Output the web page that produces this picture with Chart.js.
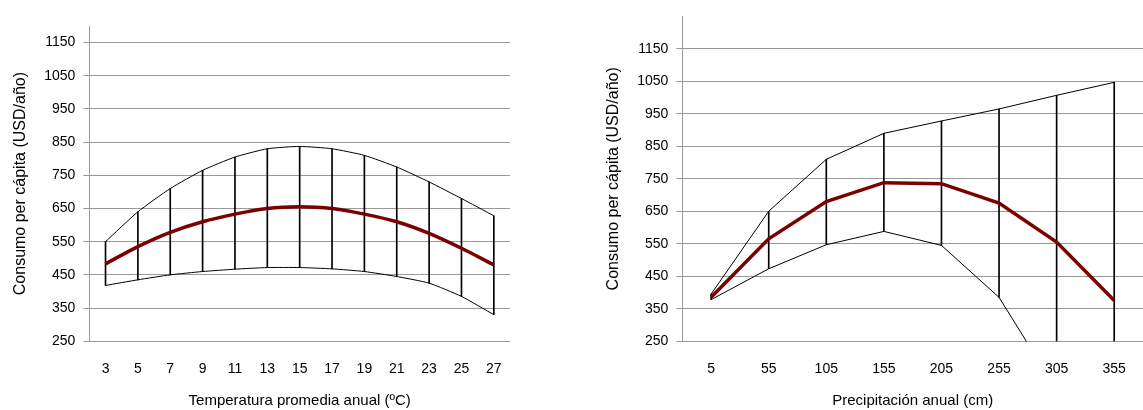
<!DOCTYPE html>
<html>
<head>
<meta charset="utf-8">
<script src="https://cdn.jsdelivr.net/npm/chart.js@4"></script>
<style>
  body { margin: 0; background: #fff; }
  #wrap { display: flex; width: 1143px; height: 410px; }
  .box { position: relative; height: 410px; }
</style>
</head>
<body>
<div id="wrap">
  <div class="box" style="width:560px"><canvas id="left"></canvas></div>
  <div class="box" style="width:583px"><canvas id="right"></canvas></div>
</div>
<script>
const tempLabels = ['3','5','7','9','11','13','15','17','19','21','23','25','27'];
const tempUpper = [550, 640, 710, 765, 805, 830, 837, 830, 810, 775, 730, 680, 628];
const tempMean  = [483, 535, 578, 610, 633, 650, 655, 650, 633, 610, 575, 530, 480];
const tempLower = [418, 435, 450, 460, 467, 472, 472, 468, 460, 445, 425, 385, 330];

const precLabels = ['5','55','105','155','205','255','305','355'];
const precUpper = [395, 650, 810, 890, 928, 965, 1007, 1047];
const precMean  = [385, 565, 680, 738, 735, 675, 555, 375];
const precLower = [378, 473, 547, 588, 545, 385, 100, -150];

const yTicks = [250, 350, 450, 550, 650, 750, 850, 950, 1050, 1150];
const FONT = 'Liberation Sans, Arial, sans-serif';

function makeChart(id, labels, upper, mean, lower, yMax, tension, xTitle, pad) {
  const thin = { type: 'line', borderColor: '#000', borderWidth: 1, pointRadius: 0, tension: tension * 0.6, fill: false };
  new Chart(document.getElementById(id), {
    type: 'bar',
    data: {
      labels: labels,
      datasets: [
        { ...thin, data: upper, order: 1 },
        { ...thin, data: lower, order: 1 },
        { type: 'line', data: mean, borderColor: '#7b0000', borderWidth: 3.5, pointRadius: 0, tension: tension, order: 0 },
        { type: 'bar', data: labels.map((_, i) => [lower[i], upper[i]]), backgroundColor: '#000',
          barThickness: 1, order: 2 }
      ]
    },
    options: {
      responsive: true, maintainAspectRatio: false, animation: false,
      layout: { padding: pad },
      plugins: { legend: { display: false }, tooltip: { enabled: false } },
      scales: {
        x: {
          offset: true,
          grid: { display: false },
          border: { display: false },
          ticks: { color: '#000', font: { family: FONT, size: 14 }, padding: 12 },
          title: { display: true, text: xTitle, color: '#000', font: { family: FONT, size: 15 }, padding: { top: 2, bottom: 0 } }
        },
        y: {
          min: 250, max: yMax,
          afterBuildTicks: s => { s.ticks = yTicks.map(v => ({ value: v })); },
          grid: { color: '#999', lineWidth: 1, tickLength: 6 },
          border: { color: '#999' },
          ticks: { color: '#000', font: { family: FONT, size: 14 }, padding: 8, callback: v => String(v) },
          title: { display: true, text: 'Consumo per cápita (USD/año)', color: '#000', font: { family: FONT, size: 16 }, padding: { bottom: 6 } }
        }
      }
    }
  });
}

makeChart('left', tempLabels, tempUpper, tempMean, tempLower, 1200, 0.3,
  'Temperatura promedia anual (ºC)', { top: 26, right: 50, left: 7, bottom: 0 });
makeChart('right', precLabels, precUpper, precMean, precLower, 1250, 0,
  'Precipitación anual (cm)', { top: 10, right: 0, left: 40, bottom: 0 });
</script>
</body>
</html>
